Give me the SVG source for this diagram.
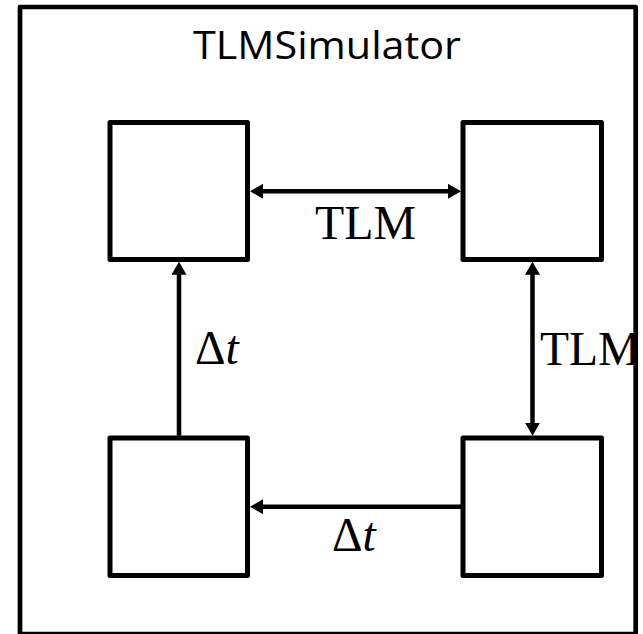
<svg xmlns="http://www.w3.org/2000/svg" width="643" height="634" viewBox="0 0 643 634">
  <style>
    .frame { fill: none; stroke: #000; stroke-width: 4.7; stroke-linejoin: round; }
    .box { fill: #fff; stroke: #000; stroke-width: 5; stroke-linejoin: round; }
    .conn { stroke: #000; stroke-width: 4.5; fill: none; }
    .title { font-family: "Open Sans", "Liberation Sans", sans-serif; font-size: 39px; fill: #000; }
    .math { font-family: "Liberation Serif", "DejaVu Serif", serif; font-size: 47.5px; fill: #000; }
  </style>
  <defs>
    <marker id="arr" viewBox="0 0 13 15" refX="5" refY="7.5" markerWidth="13" markerHeight="15" markerUnits="userSpaceOnUse" orient="auto-start-reverse">
      <path d="M0,0 L13,7.5 L0,15 z" fill="#000"/>
    </marker>
    <clipPath id="clipIn">
      <rect x="0" y="0" width="636" height="634"/>
    </clipPath>
  </defs>
  <rect x="0" y="0" width="643" height="634" fill="#fff"/>

  <g id="labels">
    <text class="title" x="193" y="59.3" textLength="268" lengthAdjust="spacingAndGlyphs">TLMSimulator</text>
    <text class="math" x="315" y="239.3" textLength="101" lengthAdjust="spacingAndGlyphs">TLM</text>
    <text class="math" x="540" y="365" clip-path="url(#clipIn)">TLM</text>
    <text class="math" x="195" y="364.3">Δ<tspan font-style="italic">t</tspan></text>
    <text class="math" x="332" y="550.7">Δ<tspan font-style="italic">t</tspan></text>
  </g>

  <g id="simulator">
    <rect class="frame" x="20" y="7" width="615.7" height="627"/>
  </g>

  <g id="connectors">
    <line class="conn" x1="258" y1="191.3" x2="453" y2="191.3" marker-start="url(#arr)" marker-end="url(#arr)"/>
    <line class="conn" x1="179" y1="435.7" x2="179" y2="269.7" marker-end="url(#arr)"/>
    <line class="conn" x1="532.5" y1="269.7" x2="532.5" y2="427.7" marker-start="url(#arr)" marker-end="url(#arr)"/>
    <line class="conn" x1="461" y1="506.7" x2="258" y2="506.7" marker-end="url(#arr)"/>
  </g>

  <g id="node-top-left">
    <rect class="box" x="110" y="122.5" width="137.5" height="137"/>
  </g>
  <g id="node-top-right">
    <rect class="box" x="463" y="122.5" width="138.5" height="137"/>
  </g>
  <g id="node-bottom-left">
    <rect class="box" x="110" y="438" width="137.5" height="137.5"/>
  </g>
  <g id="node-bottom-right">
    <rect class="box" x="463" y="438" width="138.5" height="137.5"/>
  </g>
</svg>
